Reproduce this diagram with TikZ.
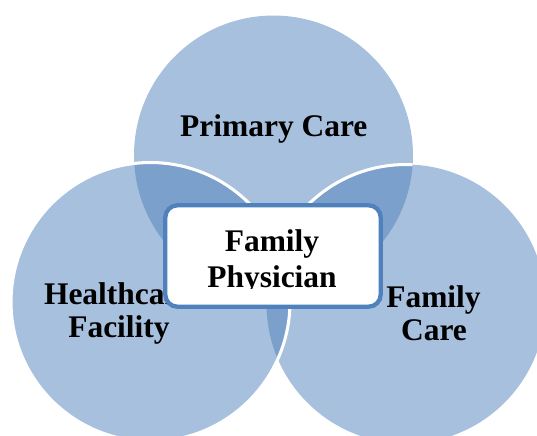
\documentclass[tikz,border=0pt]{standalone}
\usepackage{fontspec}
\setmainfont{Liberation Serif}
\definecolor{lightc}{HTML}{A7C0DE}
\definecolor{darkc}{HTML}{7BA0CC}
\definecolor{boxc}{HTML}{4F81BD}
\def\cTop{(273.5,155) circle[radius=104.6pt]}
\def\cLeft{(150.5,302) circle[radius=104.6pt]}
\def\cRight{(406,304) circle[radius=104.6pt]}
\begin{document}
\begin{tikzpicture}[x=0.75pt,y=-0.75pt,
  lbl/.style={font=\fontsize{23.6}{28}\selectfont\bfseries, anchor=base, inner sep=0pt},
  rim/.style={white, line width=2.3pt}]
\useasboundingbox (0,0) rectangle (537,436);
\clip (0,0) rectangle (537,436);
\fill[lightc] \cTop;
\fill[lightc] \cLeft;
\fill[lightc] \cRight;
\begin{scope}
  \clip \cTop;
  \fill[darkc] \cLeft;
  \fill[darkc] \cRight;
\end{scope}
\begin{scope}
  \clip \cLeft;
  \fill[darkc] \cRight;
\end{scope}
\begin{scope}
  \clip \cTop;
  \draw[rim] \cRight;
\end{scope}
\draw[rim] \cLeft;
\node[lbl] (pc) at (273.8,136) {Primary Care};
\node[lbl] (hc1) at (118,304) {Healthcare};
\node[lbl] (hc2) at (119,337) {Facility};
\node[lbl] (fc1) at (433.5,307) {Family};
\node[lbl] (fc2) at (434,340) {Care};
\node[draw=boxc, line width=3.2pt, fill=white, rounded corners=9pt,
      minimum width=161.5pt, minimum height=76pt, inner sep=0pt] (fpbox) at (273,256) {};
\begin{scope}
  \clip (0,0) rectangle (537,288.8);
  \node[lbl] (fp1) at (272,251.7) {Family};
  \node[lbl] (fp2) at (272,287.7) {Physician};
\end{scope}
\end{tikzpicture}
\end{document}
